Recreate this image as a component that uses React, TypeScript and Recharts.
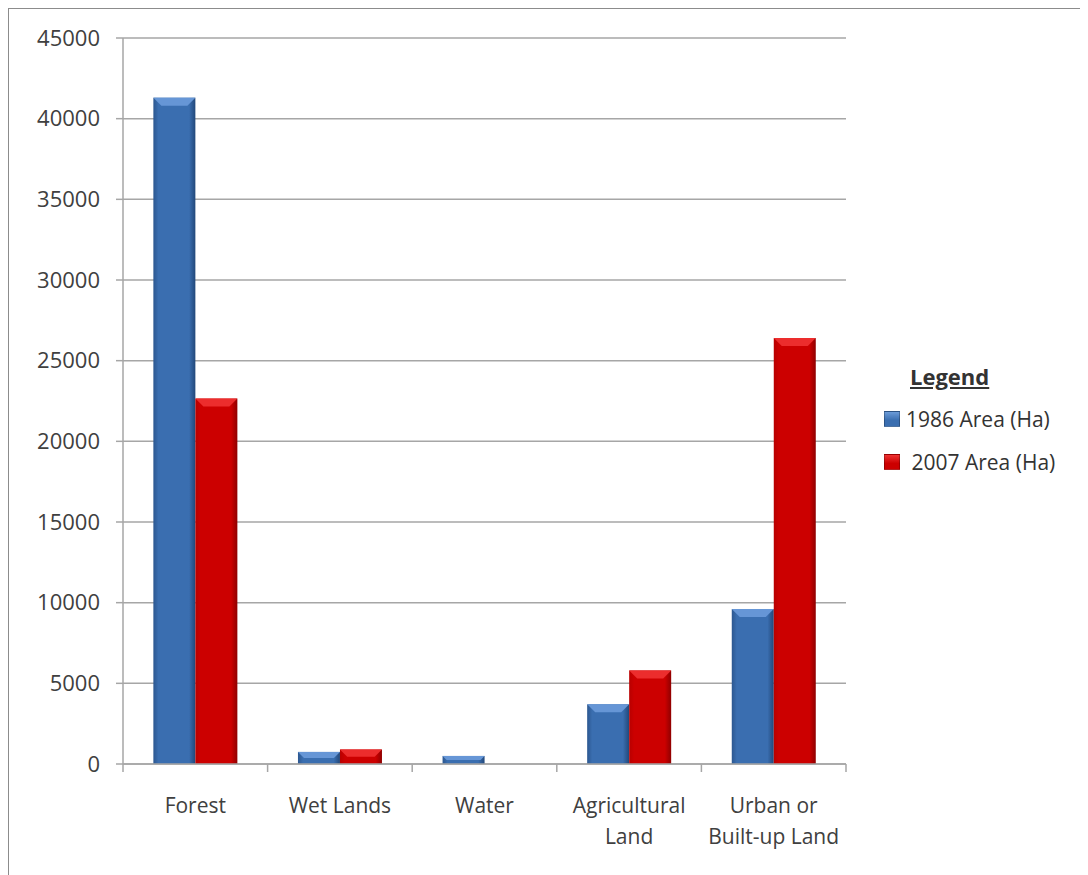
import React from 'react'
import { BarChart, Bar, XAxis, YAxis, CartesianGrid } from 'recharts'

const categories = ['Forest', 'Wet Lands', 'Water', 'Agricultural\nLand', 'Urban or\nBuilt-up Land']
const area1986 = [41300, 750, 500, 3700, 9600]
const area2007 = [22650, 900, 0, 5800, 26400]
const yTicks = [0, 5000, 10000, 15000, 20000, 25000, 30000, 35000, 40000, 45000]

const data = categories.map((name, i) => ({
  name,
  a1986: area1986[i],
  a2007: area2007[i],
}))

const font = '"Open Sans", sans-serif'
const grey = '#a6a6a6'

// bar with a lighter bevel on top, like the office 3d look
const makeShape = (gradId: string, bevel: string) => (props: any) => {
  const { x, y, width, height } = props
  if (!height || height <= 0) return <g />
  const b = Math.min(8, height / 2, width / 4)
  return (
    <g>
      <rect x={x} y={y} width={width} height={height} fill={`url(#${gradId})`} />
      <polygon
        points={`${x},${y} ${x + width},${y} ${x + width - b},${y + b} ${x + b},${y + b}`}
        fill={bevel}
      />
    </g>
  )
}

// label plus tick marks on the band edges (half a band either side of the centre)
const CategoryTick = (props: any) => {
  const { x, y, payload, index, visibleTicksCount } = props
  const half = payload.offset || 0
  const lines = String(payload.value).split('\n')
  return (
    <g>
      {half > 0 && <line x1={x - half} x2={x - half} y1={y} y2={y + 8} stroke={grey} strokeWidth={1.5} />}
      {half > 0 && index === visibleTicksCount - 1 && (
        <line x1={x + half} x2={x + half} y1={y} y2={y + 8} stroke={grey} strokeWidth={1.5} />
      )}
      <text x={x} y={y + 49} textAnchor="middle" fill="#404040" fontSize={21} fontFamily={font}>
        {lines.map((l, i) => (
          <tspan key={i} x={x} dy={i === 0 ? 0 : 31}>
            {l}
          </tspan>
        ))}
      </text>
    </g>
  )
}

const LegendBox = () => (
  <div style={{ position: 'absolute', left: 875, top: 352, fontFamily: font, color: '#333' }}>
    <div style={{ fontWeight: 700, fontSize: 22, textDecoration: 'underline', marginLeft: 26, height: 36 }}>
      Legend
    </div>
    {[
      { label: '1986 Area (Ha)', c1: '#3a6eb0', c2: '#6b9bd8' },
      { label: ' 2007 Area (Ha)', c1: '#cc0000', c2: '#ee3333' },
    ].map((it) => (
      <div key={it.label} style={{ display: 'flex', alignItems: 'center', height: 43, fontSize: 21, whiteSpace: 'pre' }}>
        <span
          style={{
            display: 'inline-block',
            width: 14,
            height: 14,
            marginRight: 6,
            background: `linear-gradient(180deg, ${it.c2} 0%, ${it.c1} 60%)`,
            border: '1px solid rgba(0,0,0,0.25)',
          }}
        />
        {it.label}
      </div>
    ))}
  </div>
)

export default function App() {
  return (
    <div
      style={{
        position: 'relative',
        width: 1079,
        height: 866,
        borderLeft: '1px solid #8c8c8c',
        borderTop: '1px solid #8c8c8c',
        background: '#fff',
      }}
    >
      <BarChart
        width={1079}
        height={866}
        data={data}
        margin={{ top: 29, right: 242, left: 0, bottom: 0 }}
        barCategoryGap="21%"
        barGap={0}
      >
        <defs>
          <linearGradient id="gBlue" x1="0" y1="0" x2="1" y2="0">
            <stop offset="0%" stopColor="#2c5790" />
            <stop offset="12%" stopColor="#3a6eb0" />
            <stop offset="85%" stopColor="#3a6eb0" />
            <stop offset="100%" stopColor="#22487a" />
          </linearGradient>
          <linearGradient id="gRed" x1="0" y1="0" x2="1" y2="0">
            <stop offset="0%" stopColor="#b80000" />
            <stop offset="12%" stopColor="#cc0000" />
            <stop offset="85%" stopColor="#cc0000" />
            <stop offset="100%" stopColor="#8f0000" />
          </linearGradient>
        </defs>
        <CartesianGrid vertical={false} stroke={grey} strokeWidth={1.5} />
        <XAxis
          dataKey="name"
          height={111}
          axisLine={{ stroke: grey, strokeWidth: 1.5 }}
          tickLine={false}
          tickSize={0}
          tickMargin={0}
          interval={0}
          tick={<CategoryTick />}
        />
        <YAxis
          width={114}
          domain={[0, 45000]}
          ticks={yTicks}
          tickSize={7}
          tickMargin={16}
          stroke={grey}
          axisLine={{ stroke: grey, strokeWidth: 1.5 }}
          tickLine={{ stroke: grey, strokeWidth: 1.5 }}
          tick={{ fill: '#404040', fontSize: 22, fontFamily: font }}
        />
        <Bar
          dataKey="a1986"
          name="1986 Area (Ha)"
          fill="#3a6eb0"
          shape={makeShape('gBlue', '#6696d6')}
          isAnimationActive={false}
        />
        <Bar
          dataKey="a2007"
          name="2007 Area (Ha)"
          fill="#cc0000"
          shape={makeShape('gRed', '#ec2d2d')}
          isAnimationActive={false}
        />
      </BarChart>
      <LegendBox />
    </div>
  )
}
